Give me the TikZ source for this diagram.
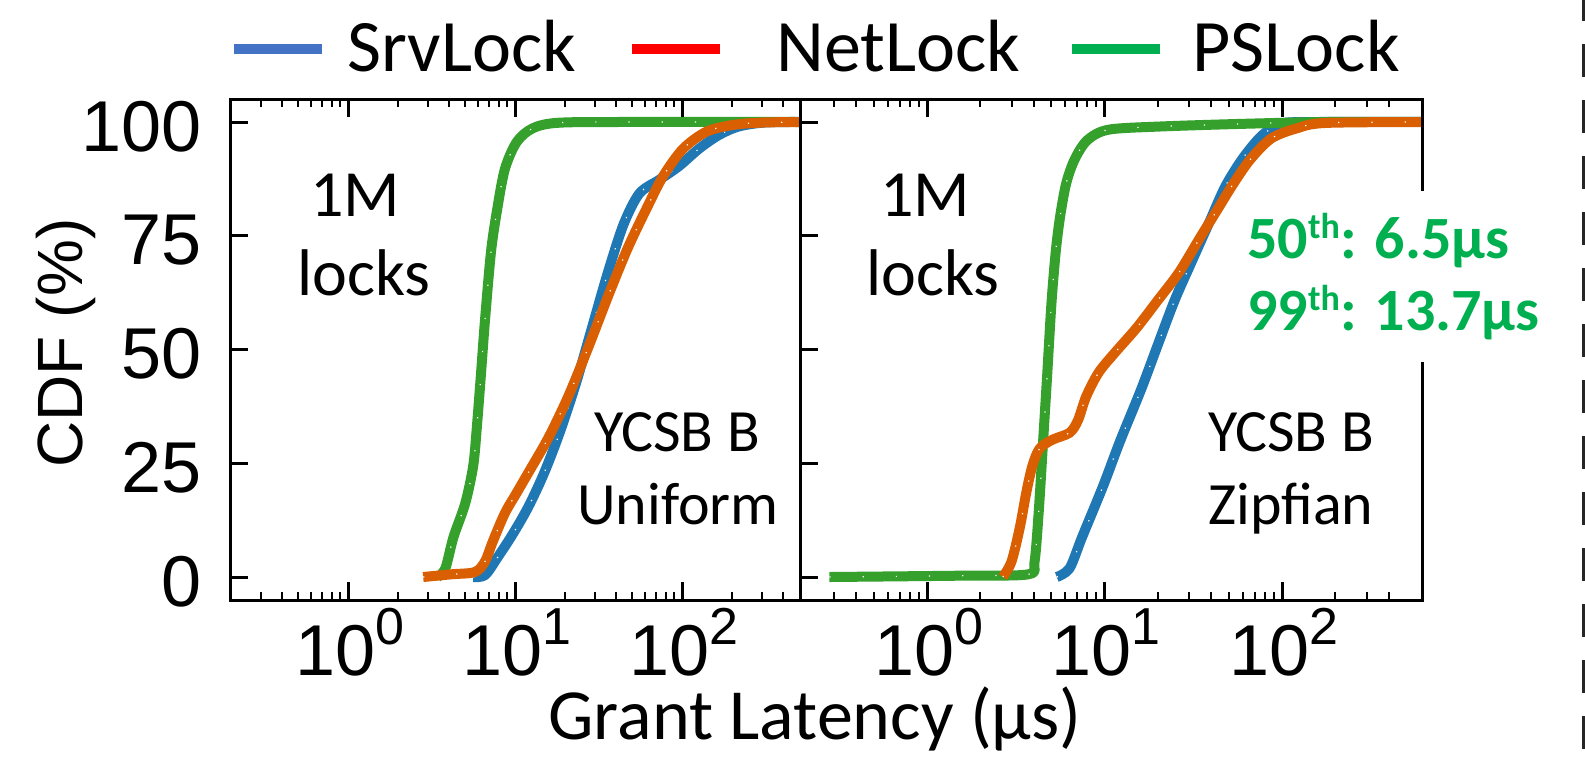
\documentclass[tikz,border=0pt]{standalone}
\usepackage{fontspec}
\setmainfont{Carlito}
\newfontfamily\arialfont{Liberation Sans}

\definecolor{srvblue}{HTML}{1F77B4}
\definecolor{netorange}{HTML}{DA5F02}
\definecolor{psgreen}{HTML}{35A02C}
\definecolor{legblue}{HTML}{4472C4}
\definecolor{legred}{HTML}{FF0000}
\definecolor{leggreen}{HTML}{00B050}
\definecolor{sepgray}{HTML}{262626}

% one CDF series: thick coloured curve with small white specks on top
\newcommand\drawcdf[2]{%
  \draw[cdfline,#1] plot[smooth,tension=0.5] coordinates {#2};
  \draw[speck] plot[smooth,tension=0.5] coordinates {#2};}
\newcommand\powten[1]{10\raisebox{0.43em}{\fontsize{26}{26}\selectfont #1}}
\newcommand\ordsup[1]{\raisebox{0.33em}{\fontsize{18}{18}\selectfont #1}}

\begin{document}
\begin{tikzpicture}[x=0.5pt,y=-0.5pt,
  frameline/.style={line width=1.5pt},
  majortick/.style={line width=1.5pt},
  minortick/.style={line width=1pt},
  cdfline/.style={line width=5pt,line join=round},
  speck/.style={white,line width=0.6pt,dash pattern=on 0.6pt off 16pt},
  legline/.style={line width=5pt},
  legtext/.style={font=\fontsize{37}{37}\selectfont,inner sep=0pt,anchor=base west},
  ticklabel/.style={font=\arialfont\fontsize{36}{36}\selectfont,inner sep=0pt},
  panellabel/.style={font=\fontsize{33}{33}\selectfont,inner sep=0pt,anchor=base},
  wlabel/.style={font=\fontsize{30}{30}\selectfont,inner sep=0pt,anchor=base},
  pctl/.style={font=\bfseries\fontsize{30}{30}\selectfont,text=leggreen,inner sep=0pt,anchor=base west}
]
\fill[white] (0,0) rectangle (1585,757);
\useasboundingbox (0,0) rectangle (1585,757);

% ---------- left panel: YCSB B, uniform ----------
\begin{scope}
  \clip (230,99) rectangle (800,600);
  \begin{scope}[shift={(348,577)},xscale=167,yscale=-4.55]
    \drawcdf{srvblue}{(0.750,0) (0.820,0.4) (0.892,4.1) (0.986,9.4) (1.081,15.5) (1.176,23) (1.271,32.1) (1.366,42.7) (1.461,54.8) (1.556,66.9) (1.650,77.5) (1.745,84.3) (1.864,87.3) (1.982,90.3) (2.101,94.1) (2.219,97.1) (2.338,99) (2.5,99.9) (2.75,100)}
    \drawcdf{psgreen}{(0.536,0) (0.583,1.9) (0.631,8.7) (0.702,16.2) (0.750,24.5) (0.773,33.6) (0.797,45) (0.820,56.3) (0.856,71.4) (0.892,80.5) (0.939,89.6) (1.010,95.6) (1.105,98.6) (1.247,99.8) (1.6,100) (2.75,100)}
    \drawcdf{netorange}{(0.45,0) (0.62,0.6) (0.76,1.1) (0.820,3.4) (0.868,7.9) (0.939,14) (1.010,18.5) (1.081,23) (1.2,30.6) (1.319,39.7) (1.437,50.3) (1.556,61.6) (1.674,72.2) (1.792,81.3) (1.887,88.1) (2.006,94.1) (2.148,97.9) (2.314,99.4) (2.5,99.9) (2.75,100)}
  \end{scope}
\end{scope}

% ---------- right panel: YCSB B, zipfian ----------
\begin{scope}
  \clip (800,99) rectangle (1422,600);
  \begin{scope}[shift={(927,577)},xscale=177.5,yscale=-4.55]
    \drawcdf{srvblue}{(0.731,0) (0.803,1.9) (0.873,8.7) (0.992,20) (1.087,29.8) (1.206,41.2) (1.300,51) (1.395,60.8) (1.490,69.2) (1.585,77.5) (1.680,85.8) (1.775,91.8) (1.870,96.4) (1.940,98.6) (2.011,99.8) (2.2,100) (2.85,100)}
    \drawcdf{psgreen}{(-0.55,0) (0.2,0.3) (0.571,0.6) (0.606,3.4) (0.630,14.7) (0.654,29.8) (0.678,45) (0.701,60.1) (0.725,71.4) (0.749,79) (0.784,86.5) (0.832,91.8) (0.903,96) (1.021,98.3) (1.306,99) (1.780,99.6) (2.254,100) (2.85,100)}
    \drawcdf{netorange}{(0.427,0) (0.476,3.4) (0.523,10.9) (0.559,18.5) (0.594,24.5) (0.636,28.3) (0.708,30.2) (0.803,31.7) (0.850,34.4) (0.897,39.7) (0.968,45) (1.063,49.5) (1.182,54.8) (1.300,60.8) (1.419,66.9) (1.537,74.5) (1.632,80.5) (1.727,86.5) (1.822,91.8) (1.940,96.4) (2.083,98.6) (2.249,99.8) (2.85,100)}
  \end{scope}
\end{scope}

% ---------- frames (right one opened where the percentiles sit) ----------
\draw[frameline] (230,99) rectangle (800,600);
\draw[frameline] (1422,191) -- (1422,99) -- (800,99);
\draw[frameline] (1422,362) -- (1422,600) -- (800,600);

% ---------- log-scale x ticks, bottom and top ----------
\foreach \xo/\dec/\lo/\hi in {348/167/236/794, 927/177.5/806/1400} {
  \foreach \d in {-1,0,1,2} {
    \foreach \m in {1,...,9} {
      \pgfmathsetmacro\X{\xo+\dec*(\d+ln(\m)/ln(10))}
      \ifdim\X pt>\lo pt \ifdim\X pt<\hi pt
        \ifnum\m=1
          \draw[majortick] (\X,600) -- (\X,582) (\X,99) -- (\X,117);
        \else
          \draw[minortick] (\X,600) -- (\X,592) (\X,99) -- (\X,107);
        \fi
      \fi\fi
    }}}

% ---------- y ticks and labels ----------
\foreach \p in {0,25,50,75,100} {
  \pgfmathsetmacro\Y{577-4.55*\p}
  \draw[majortick] (230,\Y) -- (248,\Y) (800,\Y) -- (818,\Y);
  \node[ticklabel,anchor=base east] (ylab\p) at (202,{\Y+29}) {\p};
}

% ---------- x tick labels ----------
\node[ticklabel,anchor=base] (xl0) at (350,675) {\powten{0}};
\node[ticklabel,anchor=base] (xl1) at (517,675) {\powten{1}};
\node[ticklabel,anchor=base] (xl2) at (684,675) {\powten{2}};
\node[ticklabel,anchor=base] (xr0) at (929,675) {\powten{0}};
\node[ticklabel,anchor=base] (xr1) at (1106,675) {\powten{1}};
\node[ticklabel,anchor=base] (xr2) at (1284,675) {\powten{2}};

% ---------- axis titles ----------
\node[font=\arialfont\fontsize{32}{32}\selectfont,inner sep=0pt,rotate=90,anchor=base] (ytitle) at (82,343) {CDF (\%)};
\node[font=\fontsize{36}{36}\selectfont,inner sep=0pt,anchor=base] (xtitle) at (815,739) {Grant Latency (µs)};

% ---------- legend ----------
\draw[legline,legblue] (234,49) -- (322,49);
\node[legtext] (lsrv) at (347,71) {SrvLock};
\draw[legline,legred] (632,49) -- (720,49);
\node[legtext] (lnet) at (776,71) {NetLock};
\draw[legline,leggreen] (1072,49) -- (1160,49);
\node[legtext] (lps) at (1192,71) {PSLock};

% ---------- panel annotations ----------
\node[panellabel] (lm1) at (355,216) {1M};
\node[panellabel] (lm2) at (364,295) {locks};
\node[panellabel] (rm1) at (925,216) {1M};
\node[panellabel] (rm2) at (933,295) {locks};
\node[wlabel] (lw1) at (677,451) {YCSB B};
\node[wlabel] (lw2) at (678,524) {Uniform};
\node[wlabel] (rw1) at (1291,451) {YCSB B};
\node[wlabel] (rw2) at (1291,524) {Zipfian};
\node[pctl] (p50) at (1247,258) {50\ordsup{th}: 6.5µs};
\node[pctl] (p99) at (1247,330) {99\ordsup{th}: 13.7µs};

% ---------- separator at the right edge ----------
\draw[sepgray,line width=1.5pt,dash pattern=on 16.5pt off 11.5pt] (1583.5,-12) -- (1583.5,770);
\end{tikzpicture}
\end{document}
